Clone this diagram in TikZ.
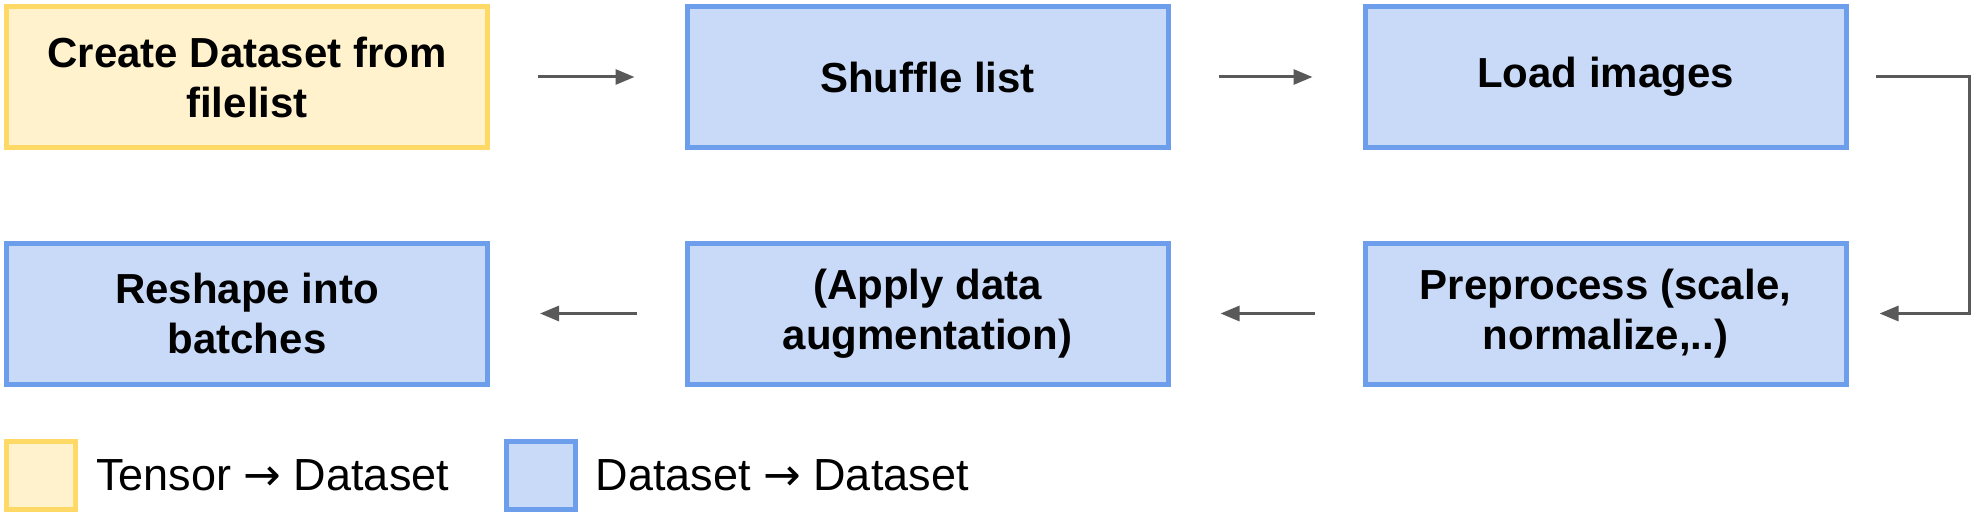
\documentclass[tikz,border=0pt]{standalone}
\usepackage{fontspec}
\setmainfont{Liberation Sans}
\newfontfamily\arrowfont{DejaVu Sans}
\usepackage{tikz}
\usetikzlibrary{arrows.meta,positioning}
\definecolor{TensorBorder}{HTML}{FFD966}
\definecolor{TensorFill}{HTML}{FFF2CC}
\definecolor{DatasetBorder}{HTML}{6D9EEB}
\definecolor{DatasetFill}{HTML}{C9DAF8}
\definecolor{FlowGrey}{HTML}{595959}
\newcommand{\maps}{{\arrowfont →}}
\tikzstyle{every op} = []
\tikzstyle{op} = [rectangle, draw, line width=5pt,
minimum width=481pt, minimum height=141pt, align=center,
font=\fontsize{42}{50}\selectfont\bfseries, every op]
\tikzstyle{tensor op} = [op, draw=TensorBorder, fill=TensorFill]
\tikzstyle{dataset op} = [op, draw=DatasetBorder, fill=DatasetFill]
\tikzstyle{flow} = [-{Triangle[length=19pt,width=15pt]}, draw=FlowGrey, line width=3pt,
shorten <=48pt, shorten >=50pt]
\tikzstyle{legend key} = [rectangle, line width=5pt, minimum width=69pt, minimum height=68pt]
\tikzstyle{legend text} = [font=\fontsize{45}{52}\selectfont, inner sep=0pt]

\begin{document}
\begin{tikzpicture}[x=1pt, y=-1pt]
	\useasboundingbox (0,0) rectangle (1974,516);
	% first row
	\node[tensor op] (create) at (247, 77) {Create Dataset from\\filelist};
	\node[dataset op] (shuffle) at (927.5, 77) {Shuffle list};
	\node[dataset op] (load) at (1605.5, 77) {Load images};
	\draw[flow] (create) -- (shuffle);
	\draw[flow] (shuffle) -- (load);
	% second row
	\node[dataset op] (prep) at (1605.5, 313.5) {Preprocess (scale,\\normalize,..)};
	\node[dataset op] (augment) at (927.5, 313.5) {(Apply data\\augmentation)};
	\node[dataset op] (batch) at (247, 313.5) {Reshape into\\batches};
	\draw[flow, shorten <=27pt, shorten >=31pt] (load.east) -- ++(121,0) |- (prep.east);
	\draw[flow] (prep) -- (augment);
	\draw[flow] (augment) -- (batch);
	% legend
	\node[legend key, draw=TensorBorder, fill=TensorFill] (legtensor) at (41, 475.5) {};
	\node[legend text, right=18pt of legtensor] (legtensortext) {Tensor \maps{} Dataset};
	\node[legend key, draw=DatasetBorder, fill=DatasetFill] (legdataset) at (540.5, 475.5) {};
	\node[legend text, right=18pt of legdataset] (legdatasettext) {Dataset \maps{} Dataset};
\end{tikzpicture}
\end{document}
